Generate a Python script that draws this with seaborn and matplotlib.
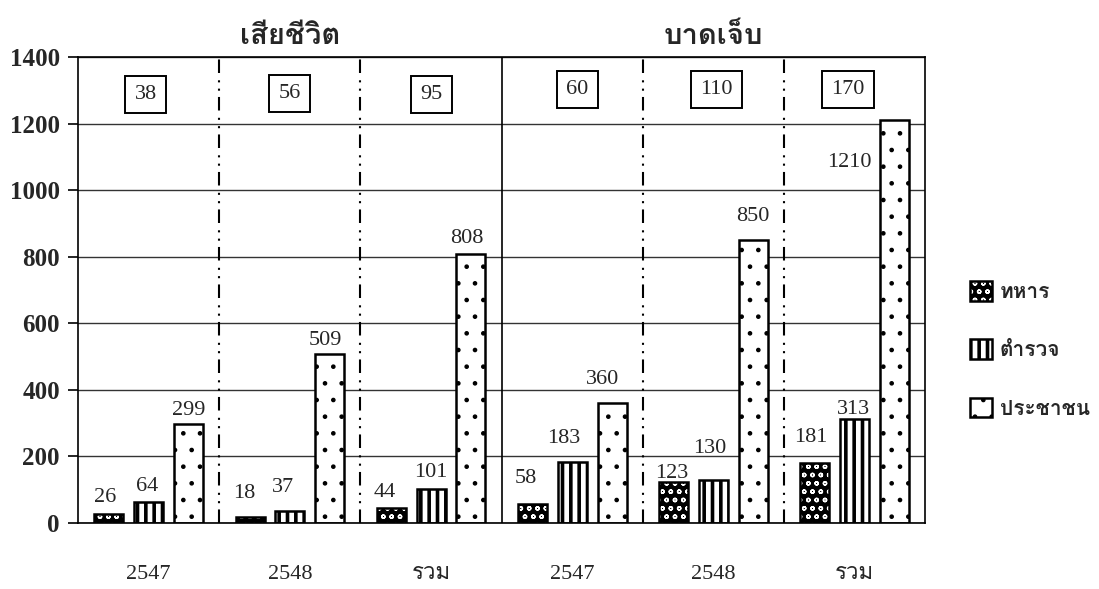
import matplotlib
matplotlib.use("Agg")
import matplotlib.pyplot as plt
import seaborn as sns
import pandas as pd
from matplotlib import font_manager
from matplotlib.ft2font import FT2Font
from matplotlib.patches import Patch, Rectangle

# data
groups = ["2547", "2548", "รวม", "2547", "2548", "รวม"]
sections = ["เสียชีวิต", "บาดเจ็บ"]
series = ["ทหาร", "ตำรวจ", "ประชาชน"]
soldier = [26, 18, 44, 58, 123, 181]
police = [64, 37, 101, 183, 130, 313]
civilian = [299, 509, 808, 360, 850, 1210]
boxed = [38, 56, 95, 60, 110, 170]
y_ticks = [0, 200, 400, 600, 800, 1000, 1200, 1400]

# label nudges (pixels) so the numbers sit where the original puts them
label_offsets = [
    [(-4, 17), (-6, 24), (-7, 16), (-7, 25), (-2, 9), (-4, 25)],
    [(-2, 15), (-7, 23), (0, 17), (-9, 24), (-4, 31), (-1, 9)],
    [(0, 13), (-4, 13), (-4, 16), (-10, 24), (-1, 24), (-45, -42)],
]
box_offsets = [(-3, 0), (0, 1), (0, 0), (5, 5), (3, 5), (-7, 5)]


def find_thai_font():
    for f in font_manager.fontManager.ttflist:
        try:
            if 0x0E2A in FT2Font(f.fname).get_charmap():
                return f.name
        except Exception:
            pass
    return None


def hatch_width(artist, lw):
    # per-artist hatch line width, whichever way this matplotlib reads it
    if hasattr(artist, "_hatch_linewidth"):
        artist._hatch_linewidth = lw
    orig = artist.draw

    def draw(renderer):
        with plt.rc_context({"hatch.linewidth": lw}):
            orig(renderer)
    artist.draw = draw


sns.set_style("white")
thai = find_thai_font()
serif = ["Liberation Serif"] + ([thai] if thai else []) + ["DejaVu Sans"]
thai_first = ([thai] if thai else []) + ["Liberation Serif", "DejaVu Sans"]
plt.rcParams["font.family"] = serif
plt.rcParams["hatch.linewidth"] = 1.0

df = pd.DataFrame({
    "group": list(range(len(groups))) * 3,
    "series": [s for s in series for _ in groups],
    "value": soldier + police + civilian,
})

fig = plt.figure(figsize=(10.99, 5.89), dpi=100)
ax = fig.add_axes([0.071, 0.112, 0.771, 0.791])

sns.barplot(data=df, x="group", y="value", hue="series", hue_order=series,
            order=list(range(len(groups))), width=0.846, gap=0.27,
            legend=False, ax=ax, err_kws={"linewidth": 0})

styles = [
    dict(facecolor="black", edgecolor="white", hatch="oo", linewidth=0),
    dict(facecolor="white", edgecolor="black", hatch="||", linewidth=1.8),
    dict(facecolor="white", edgecolor="black", hatch=".", linewidth=1.8),
]
hatch_lw = [1.0, 2.6, 0.9]
values = [soldier, police, civilian]
for i, cont in enumerate(ax.containers):
    for j, bar in enumerate(cont):
        bar.set(**styles[i])
        hatch_width(bar, hatch_lw[i])
        if i == 0:
            ax.add_patch(Rectangle(bar.get_xy(), bar.get_width(), bar.get_height(),
                                   fill=False, edgecolor="black", linewidth=1.8, zorder=bar.get_zorder() + 0.1))
        dx, dy = label_offsets[i][j]
        ax.annotate(str(values[i][j]), xy=(bar.get_x() + bar.get_width() / 2, bar.get_height()),
                    xytext=(dx, dy), textcoords="offset pixels", ha="center", va="center",
                    fontsize=16, family=serif)

# boxed totals along the top
for j, v in enumerate(boxed):
    dx, dy = box_offsets[j]
    ax.annotate(str(v), xy=(j, 1288), xytext=(dx, dy), textcoords="offset pixels",
                ha="center", va="center", fontsize=16, family=serif,
                bbox=dict(boxstyle="square,pad=0.42", facecolor="white", edgecolor="black", linewidth=1.4))

# group dividers
for b in [0.5, 1.5, 3.5, 4.5]:
    ax.axvline(b, color="black", linewidth=1.5, linestyle=(0, (6.5, 3, 1, 3, 1, 3.5)), zorder=1)
ax.axvline(2.5, color="black", linewidth=1.2, zorder=1)

ax.set_xlim(-0.5, len(groups) - 0.5)
ax.set_ylim(0, 1400)
ax.set_yticks(y_ticks)
ax.set_yticklabels([str(t) for t in y_ticks], fontsize=18, fontweight="bold", family=serif)
ax.yaxis.grid(True, color="#333333", linewidth=1.0)
ax.xaxis.grid(False)
ax.set_axisbelow(True)

ax.set_xticks(range(len(groups)))
ax.set_xticklabels(groups, fontsize=16, family=serif)
ax.set_xticks([k - 0.5 for k in range(len(groups) + 1)], minor=True)
ax.tick_params(axis="x", which="major", length=0, pad=30)
ax.tick_params(axis="x", which="minor", length=7, width=1.2, direction="out", color="black")
ax.tick_params(axis="y", length=7, width=1.2, direction="out", color="black", pad=6, left=True)
ax.set_xlabel("")
ax.set_ylabel("")
for s in ax.spines.values():
    s.set_visible(True)
    s.set_color("black")
    s.set_linewidth(1.2)

# section titles
for k, name in enumerate(sections):
    ax.text(1 + 3 * k, 1.045, name, transform=ax.get_xaxis_transform(), ha="center", va="center",
            fontsize=21, fontweight="bold", family=thai_first)

handles = [
    (Patch(**styles[0]), Patch(fill=False, edgecolor="black", linewidth=1.8)),
    Patch(**styles[1]),
    Patch(**styles[2]),
]
leg = fig.legend(handles, series, loc="center left", bbox_to_anchor=(0.866, 0.406), frameon=False,
                 handlelength=1.05, handleheight=1.05, handletextpad=0.35, labelspacing=1.8,
                 prop={"family": thai_first, "weight": "bold", "size": 15})
for h, lw in zip(leg.legend_handles, [None, 2.6, 0.9]):
    if lw is not None:
        hatch_width(h, lw)

fig.savefig("out.png", dpi=100)
